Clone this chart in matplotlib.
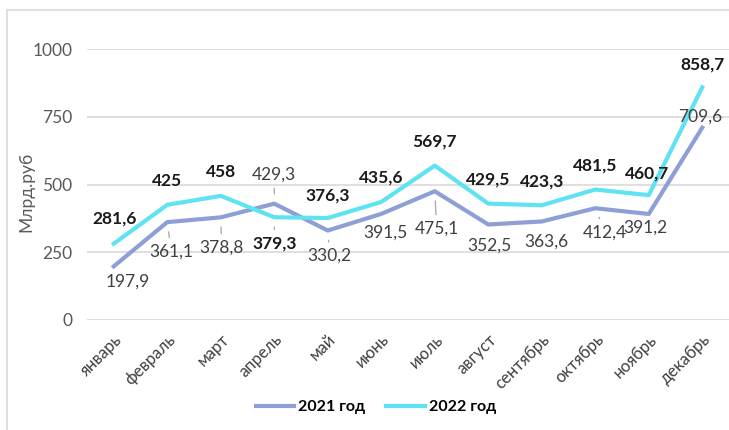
import matplotlib.pyplot as plt
from matplotlib.patches import Rectangle

months = ["январь", "февраль", "март", "апрель", "май", "июнь", "июль",
          "август", "сентябрь", "октябрь", "ноябрь", "декабрь"]
values_2021 = [197.9, 361.1, 378.8, 429.3, 330.2, 391.5, 475.1,
               352.5, 363.6, 412.4, 391.2, 709.6]
values_2022 = [281.6, 425, 458, 379.3, 376.3, 435.6, 569.7,
               429.5, 423.3, 481.5, 460.7, 858.7]
y_ticks = [0, 250, 500, 750, 1000]

# label offsets in pixels (dx, dy) and whether a leader line is drawn
offs_2021 = [(14, -15), (4, -29), (1, -30), (0, 29), (2, -25), (4, -19),
             (2, -37), (1, -21), (5, -20), (10, -24), (-3, -14), (-2, 11)]
lead_2021 = [False, True, True, True, True, False, True,
             False, False, True, False, False]
offs_2022 = [(1, 25), (0, 24), (0, 24), (0, -26), (0, 23), (0, 24),
             (0, 24), (0, 24), (0, 24), (0, 24), (-2, 22), (0, 23)]
lead_2022 = [False, False, False, True] + [False] * 8

plt.rcParams['font.family'] = ['Lato', 'DejaVu Sans']

c21 = "#8E9FD5"
c22 = "#5FE3F2"
grid_c = "#D9D9D9"
txt_c = "#595959"

fig = plt.figure(figsize=(7.29, 4.30), dpi=100)
fig.patches.append(Rectangle((7 / 729, -0.1), 2, 1.1 - 10 / 430,
                             transform=fig.transFigure, fill=False,
                             edgecolor=grid_c, lw=1.2))

ax = fig.add_axes([87 / 729, 110 / 430, 642 / 729, 271 / 430])
x = list(range(len(months)))
ax.plot(x, values_2021, color=c21, lw=3, label="2021 год", zorder=3)
ax.plot(x, values_2022, color=c22, lw=3, label="2022 год", zorder=3)

ax.set_xlim(-0.5, len(months) - 0.5)
ax.set_ylim(0, 1000)
ax.set_yticks(y_ticks)
ax.set_yticklabels([str(v) for v in y_ticks], fontsize=12.5, color=txt_c)
ax.set_xticks(x)
ax.set_xticklabels(months, rotation=45, ha="right", rotation_mode="anchor",
                   fontsize=12, color="#404040")
ax.tick_params(length=0, axis="both")
ax.tick_params(axis="y", pad=10.5)
ax.tick_params(axis="x", pad=8)
ax.grid(axis="y", color=grid_c, lw=1.2)
ax.set_axisbelow(True)
for s in ax.spines.values():
    s.set_visible(False)


def label(vals, offs, leads, bold):
    for i, v in enumerate(vals):
        dx, dy = offs[i]
        txt = f"{v:g}".replace(".", ",")
        ap = None
        if leads[i]:
            ap = dict(arrowstyle="-", color="#A6A6A6", lw=0.9,
                      shrinkA=2, shrinkB=7)
        ax.annotate(txt, (i, v), xytext=(dx, dy), textcoords="offset pixels",
                    ha="center", va="center", fontsize=12.5,
                    fontweight="bold" if bold else "normal",
                    color="#1a1a1a" if bold else "#404040",
                    arrowprops=ap, zorder=4)


label(values_2021, offs_2021, lead_2021, False)
label(values_2022, offs_2022, lead_2022, True)

fig.text(26 / 729, 1 - 192 / 430, "Млрд.руб", rotation=90, ha="center",
         va="center", fontsize=12.5, color=txt_c)

fig.legend(loc="center", bbox_to_anchor=(376 / 729, 1 - 407 / 430), ncol=2,
           frameon=False, handlelength=2.4, handletextpad=0.25,
           columnspacing=1.3, prop={"weight": "bold", "size": 11.5})

fig.savefig("out.png", dpi=100)
